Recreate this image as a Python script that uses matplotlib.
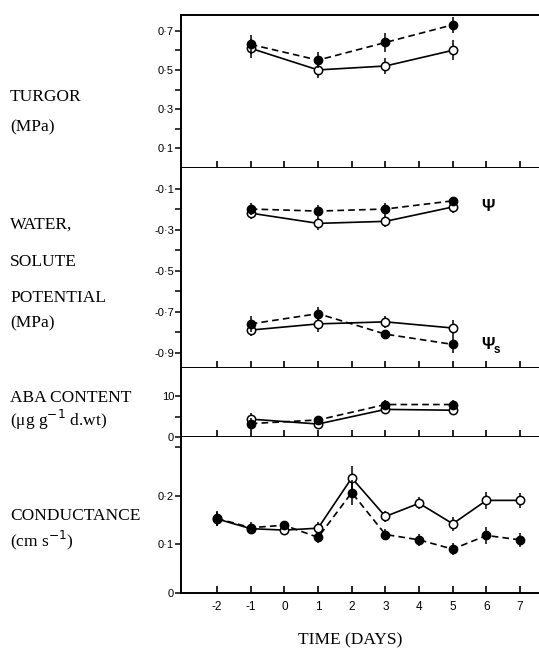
import numpy as np
from matplotlib import pyplot as plt
from matplotlib.ticker import FixedLocator, FixedFormatter

# sampling days
days_short = [-1, 1, 3, 5]
days_cond = [-2, -1, 0, 1, 2, 3, 4, 5, 6, 7]

# turgor (MPa)
turgor_closed = [0.63, 0.55, 0.64, 0.73]
turgor_closed_err = [0.05, 0.04, 0.05, 0.04]
turgor_open = [0.61, 0.50, 0.52, 0.60]
turgor_open_err = [0.05, 0.04, 0.04, 0.05]

# water potential and solute potential (MPa)
psi_closed = [-0.20, -0.21, -0.20, -0.16]
psi_closed_err = [0.03, 0.03, 0.03, 0.02]
psi_open = [-0.22, -0.27, -0.26, -0.19]
psi_open_err = [0.03, 0.03, 0.03, 0.03]
psis_closed = [-0.76, -0.71, -0.81, -0.86]
psis_closed_err = [0.04, 0.03, 0.02, 0.04]
psis_open = [-0.79, -0.76, -0.75, -0.78]
psis_open_err = [0.03, 0.04, 0.03, 0.04]

# ABA content (ug g-1 d.wt)
aba_closed = [3.3, 4.2, 8.0, 8.0]
aba_closed_err = [1.5, 1.0, 1.0, 1.0]
aba_open = [4.4, 3.2, 6.8, 6.6]
aba_open_err = [1.5, 1.2, 1.0, 1.0]

# conductance (cm s-1)
cond_closed = [0.153, 0.134, 0.139, 0.114, 0.206, 0.120, 0.109, 0.090, 0.118, 0.109]
cond_closed_err = [0.015, 0.012, 0.008, 0.012, 0.025, 0.012, 0.012, 0.012, 0.018, 0.015]
cond_open = [0.152, 0.132, 0.129, 0.133, 0.236, 0.157, 0.184, 0.142, 0.190, 0.190]
cond_open_err = [0.015, 0.010, 0.008, 0.012, 0.025, 0.012, 0.012, 0.014, 0.018, 0.015]

plt.rcParams['font.family'] = ['Liberation Sans', 'DejaVu Sans']

fig = plt.figure(figsize=(5.39, 6.53), dpi=100)
gs = fig.add_gridspec(4, 1, height_ratios=[153, 200, 69, 156], hspace=0,
                      left=181/539, right=1.0, top=1-15/653, bottom=1-593/653)
axes = [fig.add_subplot(gs[i]) for i in range(4)]


def draw(ax, x, y, e, filled):
    if filled:
        ax.errorbar(x, y, yerr=e, fmt='o', color='black', ls=(0, (4, 2.5)), lw=1.2,
                    ms=6, mfc='black', mec='black', elinewidth=1.1, capsize=0, zorder=3)
    else:
        ax.errorbar(x, y, yerr=e, fmt='o', color='black', ls='-', lw=1.2,
                    ms=6, mfc='white', mec='black', mew=1.1, elinewidth=1.1, capsize=0, zorder=2)


draw(axes[0], days_short, turgor_open, turgor_open_err, False)
draw(axes[0], days_short, turgor_closed, turgor_closed_err, True)
draw(axes[1], days_short, psi_open, psi_open_err, False)
draw(axes[1], days_short, psi_closed, psi_closed_err, True)
draw(axes[1], days_short, psis_open, psis_open_err, False)
draw(axes[1], days_short, psis_closed, psis_closed_err, True)
draw(axes[2], days_short, aba_open, aba_open_err, False)
draw(axes[2], days_short, aba_closed, aba_closed_err, True)
draw(axes[3], days_cond, cond_open, cond_open_err, False)
draw(axes[3], days_cond, cond_closed, cond_closed_err, True)

axes[1].text(6.05, -0.19, 'Ψ', fontsize=12, fontweight='bold', ha='center', va='center')
axes[1].text(6.05, -0.86, 'Ψ', fontsize=12, fontweight='bold', ha='center', va='center')
axes[1].text(6.32, -0.885, 's', fontsize=8.5, fontweight='bold', ha='center', va='center')

ylims = [(0.0, 0.78), (-0.975, 0.0), (0, 17), (0, 0.32)]
major = [[0.1, 0.3, 0.5, 0.7], [-0.1, -0.3, -0.5, -0.7, -0.9], [0, 10], [0, 0.1, 0.2]]
minor = [[0.2, 0.4, 0.6], [-0.2, -0.4, -0.6, -0.8], [5], [0.3]]
labels = [['0·1', '0·3', '0·5', '0·7'], ['-0·1', '-0·3', '-0·5', '-0·7', '-0·9'],
          ['0', '10'], ['0', '0·1', '0·2']]

for i, ax in enumerate(axes):
    ax.set_xlim(-3.07, 7.56)
    ax.set_ylim(*ylims[i])
    ax.spines['right'].set_visible(False)
    if i > 0:
        ax.spines['top'].set_visible(False)
    for s in ax.spines.values():
        s.set_linewidth(1.4)
    ax.set_xticks(days_cond)
    ax.tick_params(axis='x', direction='in', length=5, width=1.2, labelbottom=(i == 3),
                   labelsize=8.5, pad=6)
    ax.yaxis.set_major_locator(FixedLocator(major[i]))
    ax.yaxis.set_major_formatter(FixedFormatter(labels[i]))
    ax.yaxis.set_minor_locator(FixedLocator(minor[i]))
    ax.tick_params(axis='y', which='both', direction='out', length=4, width=1.1,
                   labelsize=8, pad=1)

axes[3].set_xticklabels([str(d) for d in days_cond])

serif = ['Liberation Serif', 'DejaVu Serif']
left_text = [
    ('TURGOR', 97), ('(MPa)', 127),
    ('WATER,', 225), ('SOLUTE', 262), ('POTENTIAL', 298), ('(MPa)', 323),
    ('ABA CONTENT', 398), ('(μg g$^{-1}$ d.wt)', 420),
    ('CONDUCTANCE', 516), ('(cm s$^{-1}$)', 540),
]
for txt, ypix in left_text:
    fig.text(10/539, 1 - ypix/653, txt, fontsize=12.5, family=serif, ha='left', va='center')

fig.text(350/539, 1 - 640/653, 'TIME (DAYS)', fontsize=12.5, family=serif, ha='center', va='center')

fig.savefig('out.png', dpi=100)
